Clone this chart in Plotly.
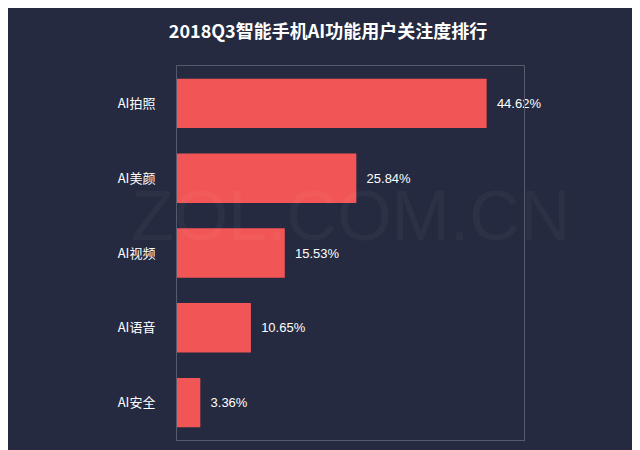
import plotly.graph_objects as go

categories = ["AI拍照", "AI美颜", "AI视频", "AI语音", "AI安全"]
values = [44.62, 25.84, 15.53, 10.65, 3.36]
labels = ["44.62%", "25.84%", "15.53%", "10.65%", "3.36%"]

font = "Noto Sans CJK SC"

fig = go.Figure(go.Bar(
    y=categories, x=values, orientation="h",
    marker=dict(color="#f25555", line=dict(width=0)), width=0.66,
    text=["  " + t for t in labels], textposition="outside",
    textfont=dict(color="white", size=13, family="Liberation Sans"),
    cliponaxis=False,
))

# faint watermark
fig.add_annotation(
    text="ZOL.COM.CN", x=0.5, y=0.6, xref="paper", yref="paper",
    showarrow=False, font=dict(size=70, color="rgba(255,255,255,0.035)", family="Liberation Sans"),
)

fig.update_layout(
    width=640, height=450,
    paper_bgcolor="#252a40", plot_bgcolor="#252a40",
    margin=dict(l=169, r=124, t=58, b=18),
    title=dict(text="<b>2018Q3智能手机AI功能用户关注度排行</b>", x=0.5, y=0.947,
               xanchor="center", yanchor="middle", automargin=False,
               font=dict(color="white", size=18, family=font)),
    showlegend=False,
    xaxis=dict(range=[0, 50], showgrid=False, showticklabels=False, zeroline=False,
               showline=True, linecolor="#555a6e", mirror=True, linewidth=1, automargin=False),
    yaxis=dict(autorange="reversed", showgrid=False, showline=True, linecolor="#555a6e",
               mirror=True, linewidth=1, ticks="", ticklabelstandoff=18, automargin=False,
               tickfont=dict(color="white", size=13, family=font)),
)

fig.write_html("out.html")
